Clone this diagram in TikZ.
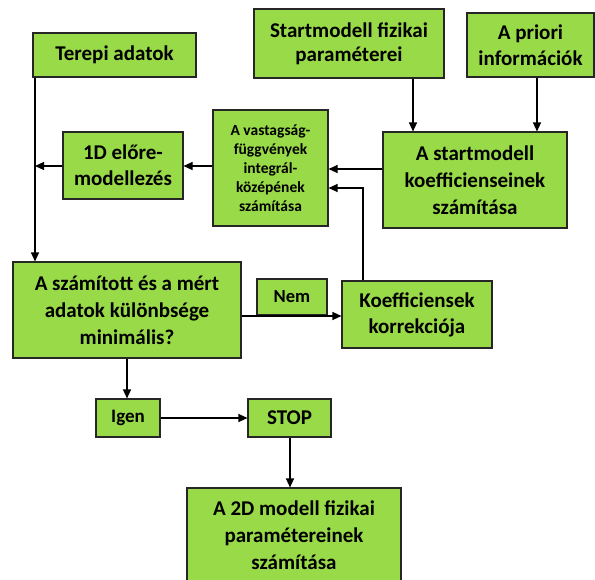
\documentclass[tikz,border=0pt]{standalone}
\usepackage{fontspec}
\setmainfont{Carlito}
\usetikzlibrary{arrows.meta,calc}
\definecolor{boxgreen}{RGB}{152,218,72}
\begin{document}
\begin{tikzpicture}[x=1pt,y=-1pt,
  box/.style={draw=black!85,fill=boxgreen,line width=1.1pt,align=center,inner sep=0pt,
    font=\fontsize{21}{26}\selectfont\bfseries},
  arr/.style={line width=1.1pt,-{Triangle[length=9pt,width=8pt]}},
  ln/.style={line width=1.1pt}]
\useasboundingbox (0,0) rectangle (595,579);
\node[box,minimum width=163,minimum height=44] (terepi) at (114.5,55) {Terepi adatok};
\node[box,minimum width=190,minimum height=69,font=\fontsize{21}{24}\selectfont\bfseries] (startfiz) at (349,43.5) {Startmodell fizikai\\paraméterei};
\node[box,minimum width=127,minimum height=64] (apriori) at (530.5,45) {A priori\\információk};
\node[box,minimum width=115,minimum height=116,font=\fontsize{15.5}{19}\selectfont\bfseries] (vastag) at (270.5,168) {A vastagság-\\függvények\\integrál-\\középének\\számítása};
\node[box,minimum width=120,minimum height=67] (elore) at (123,165.5) {1D előre-\\modellezés};
\node[box,minimum width=184,minimum height=96,font=\fontsize{21}{27}\selectfont\bfseries] (koeff) at (475,180) {A startmodell\\koefficienseinek\\számítása};
\node[box,minimum width=228,minimum height=96,font=\fontsize{21}{27}\selectfont\bfseries] (question) at (127,310) {A számított és a mért\\adatok különbsége\\minimális?};
\node[box,minimum width=70,minimum height=36,font=\fontsize{18.5}{20}\selectfont\bfseries] (nem) at (292,297) {Nem};
\node[box,minimum width=150,minimum height=67] (korr) at (417,314.5) {Koefficiensek\\korrekciója};
\node[box,minimum width=64,minimum height=38,font=\fontsize{19}{20}\selectfont\bfseries] (igen) at (128,418) {Igen};
\node[box,minimum width=83,minimum height=38] (stop) at (289.5,418) {STOP};
\node[box,minimum width=214,minimum height=94,font=\fontsize{21}{27}\selectfont\bfseries] (final) at (294,535) {A 2D modell fizikai\\paramétereinek\\számítása};
\coordinate (xa) at (413,0);
\coordinate (xb) at (537,0);
\coordinate (ya) at (0,169);
\coordinate (xc) at (363,0);
\coordinate (yc) at (0,188);
\coordinate (yv) at (0,166);
\coordinate (xt) at (35,0);
\coordinate (yq) at (0,316);
\coordinate (xq) at (127,0);
\coordinate (xs) at (290,0);
\coordinate (tl) at (35,166);
\draw[arr] (startfiz.south -| xa) -- (koeff.north -| xa);
\draw[arr] (apriori.south -| xb) -- (koeff.north -| xb);
\draw[arr] (koeff.west |- ya) -- (vastag.east |- ya);
\draw[arr] (korr.north -| xc) |- (vastag.east |- yc);
\draw[arr] (vastag.west |- yv) -- (elore.east |- yv);
\draw[arr] (elore.west |- yv) -- (tl);
\draw[arr] (terepi.south -| xt) -- (question.north -| xt);
\draw[arr] (question.east |- yq) -- (korr.west |- yq);
\draw[arr] (question.south -| xq) -- (igen.north -| xq);
\draw[arr] (igen.east) -- (stop.west);
\draw[arr] (stop.south -| xs) -- (final.north -| xs);
\end{tikzpicture}
\end{document}
